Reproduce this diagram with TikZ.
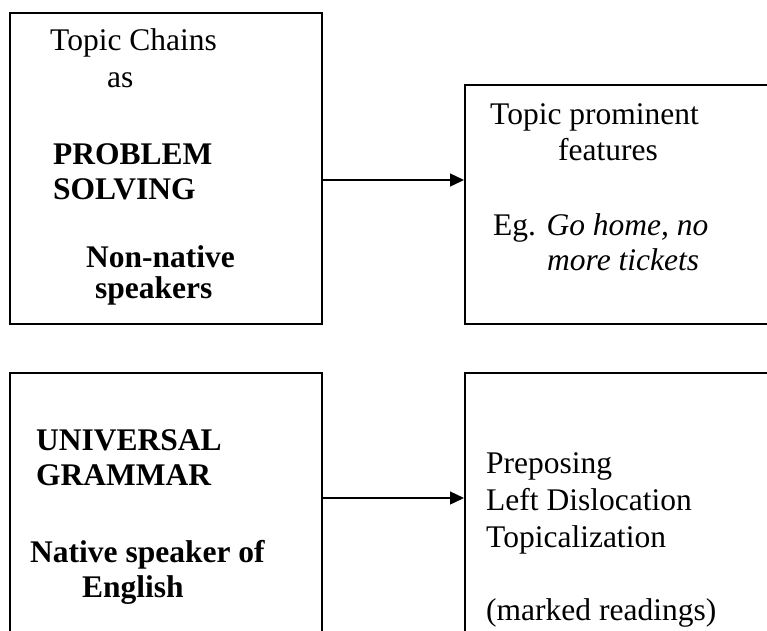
\documentclass[tikz,border=0pt]{standalone}
\usepackage{fontspec}
\setmainfont{Liberation Serif}
\usetikzlibrary{arrows.meta}
\begin{document}
\begin{tikzpicture}[x=1pt,y=-1pt,
  box/.style={draw, line width=1.8pt, inner sep=0pt, anchor=north west},
  txt/.style={anchor=base west, inner sep=0pt, font=\fontsize{31.5}{37}\selectfont},
  btxt/.style={anchor=base west, inner sep=0pt, font=\fontsize{31.5}{37}\selectfont\bfseries},
  arr/.style={line width=1.3pt, -{Triangle[length=14pt,width=13pt]}}]
\useasboundingbox (0,0) rectangle (767,630);
\fill[white] (0,0) rectangle (767,630);

% boxes (the right-hand ones and the lower ones run past the page edge)
\node[box, minimum width=312pt, minimum height=311pt] (b1) at (9,12) {};
\node[box, minimum width=320pt, minimum height=239pt] (b2) at (464,84) {};
\node[box, minimum width=312pt, minimum height=280pt] (b3) at (9,372) {};
\node[box, minimum width=320pt, minimum height=280pt] (b4) at (464,372) {};

% box 1 text
\node[txt]  (t1a) at (50,50)  {Topic Chains};
\node[txt]  (t1b) at (107,87) {as};
\node[btxt] (t1c) at (53,164) {PROBLEM};
\node[btxt] (t1d) at (53,199) {SOLVING};
\node[btxt] (t1e) at (86,267) {Non-native};
\node[btxt] (t1f) at (95,298) {speakers};

% box 2 text
\node[txt] (t2a) at (490,124) {Topic prominent};
\node[txt] (t2b) at (558,160) {features};
\node[txt] (t2c) at (493,235) {Eg. \textit{Go home, no}};
\node[txt] (t2d) at (547,270) {\textit{more tickets}};

% box 3 text
\node[btxt] (t3a) at (36,450) {UNIVERSAL};
\node[btxt] (t3b) at (36,485) {GRAMMAR};
\node[btxt] (t3c) at (30,562) {Native speaker of};
\node[btxt] (t3d) at (82,597) {English};

% box 4 text
\node[txt] (t4a) at (486,473) {Preposing};
\node[txt] (t4b) at (486,510) {Left Dislocation};
\node[txt] (t4c) at (486,547) {Topicalization};
\node[txt] (t4d) at (486,620) {(marked readings)};

% connectors
\coordinate (y1) at (0,180);
\coordinate (y2) at (0,498);
\draw[arr] (b1.east |- y1) -- (b2.west |- y1);
\draw[arr] (b3.east |- y2) -- (b4.west |- y2);
\end{tikzpicture}
\end{document}
